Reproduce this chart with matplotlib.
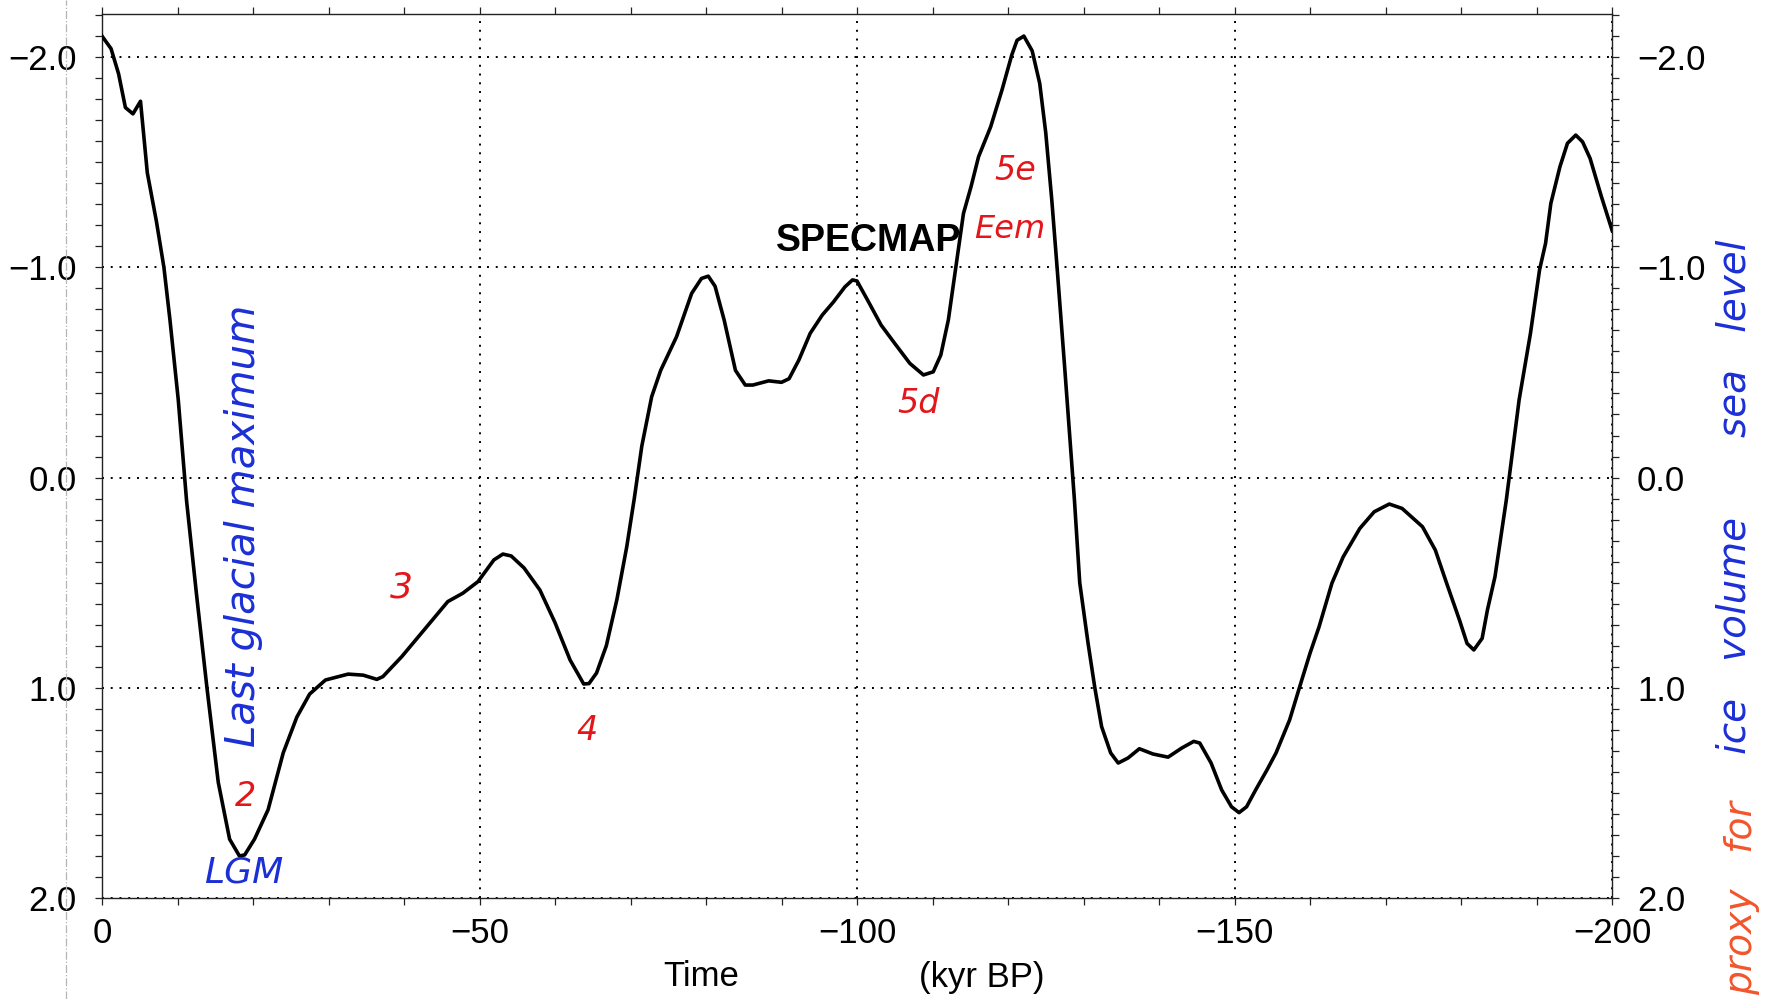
import matplotlib
matplotlib.use("Agg")
import matplotlib.pyplot as plt
from matplotlib.ticker import MultipleLocator, FixedLocator
from matplotlib.lines import Line2D

# ---------------- data ----------------
time_kyr = [0, -1.2, -2.2, -3.1, -4.1, -5.1, -6.0, -7.2, -8.2, -9.0, -10.1, -11.2,
            -12.5, -13.9, -15.4, -16.9, -18.2, -18.9, -20.2, -22.0, -24.0, -25.8,
            -27.5, -29.6, -32.6, -34.6, -36.4, -37.2, -39.7, -42.3, -45.8, -47.8,
            -49.8, -51.9, -53.1, -54.2, -55.9, -58.0, -60.0, -62.0, -63.8, -64.5,
            -65.5, -66.8, -68.2, -69.5, -70.5, -71.5, -72.8, -74.0, -76.1, -78.1,
            -79.4, -80.3, -81.2, -82.4, -83.9, -85.2, -86.2, -88.3, -90.0, -91.0,
            -92.3, -93.8, -95.4, -96.9, -98.4, -99.4, -100.0, -101.4, -103.2, -105.0,
            -107.0, -108.8, -110.1, -111.1, -112.1, -113.1, -114.1, -115.1, -116.1,
            -117.7, -119.2, -120.5, -121.2, -122.1, -123.2, -124.2, -125.0, -125.8,
            -126.5, -127.5, -128.8, -129.5, -130.6, -131.5, -132.4, -133.6, -134.6,
            -135.9, -137.4, -139.2, -141.2, -143.0, -144.6, -145.4, -146.9, -148.3,
            -149.6, -150.6, -151.6, -152.8, -154.3, -155.5, -157.3, -158.5, -160.0,
            -161.2, -162.9, -164.4, -166.6, -168.5, -170.5, -172.2, -174.9, -176.6,
            -178.1, -179.8, -180.8, -181.7, -182.8, -183.5, -184.5, -186.0, -187.7,
            -189.2, -190.4, -191.2, -191.9, -193.1, -194.1, -195.2, -196.1, -197.1,
            -198.6, -200.0]
specmap = [-2.10, -2.04, -1.92, -1.76, -1.73, -1.79, -1.45, -1.22, -1.00, -0.75, -0.37, 0.11,
           0.55, 1.00, 1.45, 1.72, 1.80, 1.795, 1.72, 1.58, 1.31, 1.14,
           1.03, 0.963, 0.935, 0.94, 0.96, 0.947, 0.852, 0.74, 0.59, 0.55,
           0.495, 0.392, 0.364, 0.373, 0.43, 0.535, 0.69, 0.868, 0.982, 0.98,
           0.93, 0.80, 0.58, 0.33, 0.10, -0.15, -0.384, -0.51, -0.67, -0.876,
           -0.947, -0.958, -0.91, -0.75, -0.51, -0.44, -0.44, -0.46, -0.453, -0.47,
           -0.559, -0.686, -0.773, -0.836, -0.907, -0.94, -0.935, -0.844, -0.725, -0.638,
           -0.543, -0.488, -0.503, -0.583, -0.75, -1.003, -1.256, -1.383, -1.526,
           -1.668, -1.843, -2.01, -2.08, -2.10, -2.03, -1.875, -1.64, -1.32,
           -1.00, -0.527, 0.107, 0.50, 0.787, 1.00, 1.185, 1.31, 1.358,
           1.334, 1.29, 1.315, 1.33, 1.287, 1.255, 1.263, 1.358, 1.486,
           1.566, 1.594, 1.566, 1.486, 1.391, 1.31, 1.153, 1.011, 0.836,
           0.71, 0.503, 0.377, 0.242, 0.163, 0.126, 0.147, 0.234, 0.345,
           0.503, 0.678, 0.789, 0.82, 0.765, 0.63, 0.472, 0.107, -0.37,
           -0.686, -0.987, -1.114, -1.304, -1.478, -1.59, -1.629, -1.597, -1.518,
           -1.336, -1.177]

x_ticks = [0, -50, -100, -150, -200]
x_ticklabels = ["0", "\u221250", "\u2212100", "\u2212150", "\u2212200"]
y_ticks = [-2.0, -1.0, 0.0, 1.0, 2.0]
y_ticklabels = ["\u22122.0", "\u22121.0", "0.0", "1.0", "2.0"]

RED = "#e3161b"
BLUE = "#1b2fd6"
ORANGE = "#f2552c"

plt.rcParams["font.family"] = ["Liberation Sans", "DejaVu Sans"]

# ---------------- figure ----------------
fig = plt.figure(figsize=(17.82, 9.99), dpi=100)
ax = fig.add_axes([102 / 1782, 1 - 898 / 999, 1510 / 1782, (898 - 14) / 999])

ax.plot(time_kyr, specmap, color="black", lw=2.6, solid_joinstyle="round", zorder=3)

ax.set_xlim(0, -200)
ax.set_ylim(2.0, -2.205)

ax.xaxis.set_major_locator(FixedLocator(x_ticks))
ax.set_xticklabels(x_ticklabels)
ax.xaxis.set_minor_locator(MultipleLocator(10))
ax.yaxis.set_major_locator(FixedLocator(y_ticks))
ax.set_yticklabels(y_ticklabels)
ax.yaxis.set_minor_locator(MultipleLocator(0.1))

ax.tick_params(which="both", direction="out", length=5, width=0.9, color="#222222",
               top=True, right=True, labelright=True, labelsize=25)
ax.tick_params(axis="y", which="major", pad=13)
ax.tick_params(axis="x", which="major", pad=9)

for sp in ax.spines.values():
    sp.set_linewidth(1.0)
    sp.set_color("#222222")

ax.grid(True, which="major", color="black", lw=1.4, linestyle=(0, (1, 3.5)))

# axis label pieces
fig.text(701 / 1782, 1 - 977 / 999, "Time", fontsize=25, ha="center", va="center")
fig.text(982 / 1782, 1 - 977 / 999, "(kyr BP)", fontsize=25, ha="center", va="center")

# label
ax.text(-101.5, -1.125, "SPECMAP", fontweight="bold", fontsize=27,
        ha="center", va="center", zorder=4)

hand = dict(family="DejaVu Sans", style="italic")
# red stage numbers
ax.text(-19.0, 1.515, "2", color=RED, fontsize=24, ha="center", va="center", **hand)
ax.text(-39.6, 0.525, "3", color=RED, fontsize=26, ha="center", va="center", **hand)
ax.text(-64.3, 1.205, "4", color=RED, fontsize=24, ha="center", va="center", **hand)
ax.text(-108.1, -0.354, "5d", color=RED, fontsize=24, ha="center", va="center", **hand)
ax.text(-120.9, -1.46, "5e", color=RED, fontsize=24, ha="center", va="center", **hand)
ax.text(-120.2, -1.18, "Eem", color=RED, fontsize=23, ha="center", va="center", **hand)

# blue annotations
ax.text(-18.8, 0.231, "Last glacial maximum", color=BLUE, fontsize=29, rotation=90,
        ha="center", va="center", **hand)
ax.text(-18.8, 1.88, "LGM", color=BLUE, fontsize=26, ha="center", va="center", **hand)

# right-side vertical caption
cx = 1735 / 1782
fig.text(cx, 1 - 338 / 999, "sea   level", color=BLUE, fontsize=28, rotation=90,
         ha="center", va="center", **hand)
fig.text(cx, 1 - 636 / 999, "ice   volume", color=BLUE, fontsize=28, rotation=90,
         ha="center", va="center", **hand)
fig.text(cx + 0.004, 0.004, "proxy   for", color=ORANGE, fontsize=27, rotation=90,
         ha="center", va="bottom", **hand)

# faint scan edge line on the left
fig.add_artist(Line2D([66 / 1782, 66 / 1782], [0, 1], transform=fig.transFigure,
                      color="#b5b5b5", lw=0.9, linestyle="-."))

fig.savefig("out.png", dpi=100, facecolor="white")
